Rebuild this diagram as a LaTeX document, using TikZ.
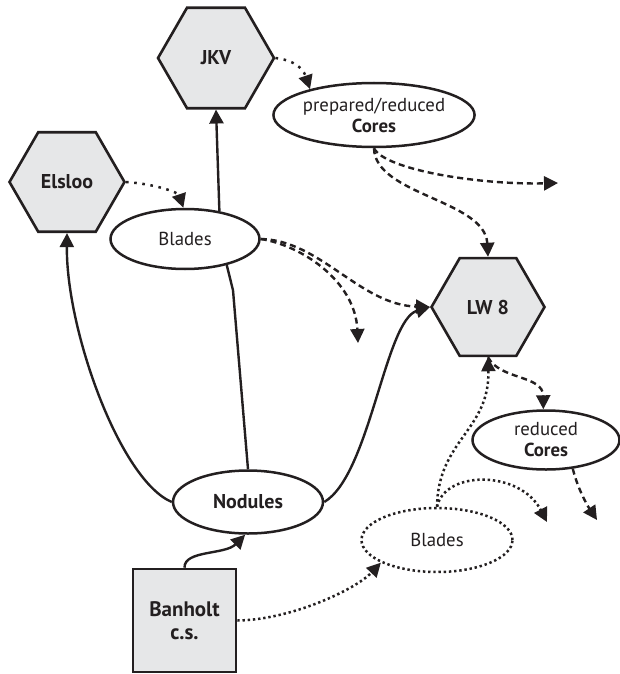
\documentclass[tikz,border=0pt]{standalone}
\usepackage{fontspec}
\setmainfont{PT Sans}
\usetikzlibrary{arrows.meta,shapes.geometric}
\definecolor{ink}{HTML}{231F20}
\definecolor{hexfill}{HTML}{E6E7E8}
\begin{document}
\begin{tikzpicture}[x=1pt,y=-1pt,
  hexa/.style={regular polygon, regular polygon sides=6, draw=ink, fill=hexfill,
    line width=2.6pt, inner sep=0pt, text=ink,
    font=\bfseries\fontsize{20}{24}\selectfont},
  ell/.style={ellipse, draw=ink, fill=white, line width=2.5pt, inner sep=0pt,
    align=center, text=ink, font=\fontsize{18.8}{21}\selectfont},
  boxnode/.style={rectangle, draw=ink, fill=hexfill, line width=2.6pt, inner sep=0pt,
    minimum size=103pt, align=center, text=ink,
    font=\bfseries\fontsize{21}{23}\selectfont},
  tip/.style={-{Triangle[length=14pt,width=14pt]}},
  solidline/.style={draw=ink, line width=2.4pt},
  dashline/.style={draw=ink, line width=2.4pt, dash pattern=on 6pt off 4pt},
  sparsedot/.style={draw=ink, line width=2.5pt, dash pattern=on 2.6pt off 5.6pt},
  densedot/.style={draw=ink, line width=2.5pt, dash pattern=on 2.4pt off 2.8pt},
]
\useasboundingbox (0,0) rectangle (620,674);

% nodes
\node[hexa, minimum size=116pt] (jkv) at (216,58) {JKV};
\node[hexa, minimum size=115pt] (els) at (67,182) {Elsloo};
\node[hexa, minimum size=113pt] (lw) at (488,307) {LW 8};
\node[ell, minimum width=149pt, minimum height=60pt] (bla) at (185,239) {Blades};
\node[ell, minimum width=162pt, minimum height=64pt] (prep) at (374,115)
  {prepared/reduced\\\textbf{Cores}};
\node[ell, minimum width=147pt, minimum height=59pt] (red) at (546,440)
  {reduced\\\textbf{Cores}};
\node[ell, minimum width=150pt, minimum height=63pt,
  font=\bfseries\fontsize{20}{24}\selectfont] (nod) at (248,502) {Nodules};
\node[ell, draw=none, minimum width=151pt, minimum height=64pt] (blb) at (437,540) {Blades};
\draw[densedot] (blb.center) ellipse [x radius=75.5pt, y radius=32pt];
\node[boxnode] (ban) at (184.5,620.5) {Banholt\\c.s.};

% free ends
\coordinate (f1) at (358,343);
\coordinate (f2) at (558,183);
\coordinate (f3) at (597,520);
\coordinate (f4) at (547,522);

% solid connectors
\draw[solidline, tip] (bla.39) -- (jkv.south);
\draw[solidline] (nod.north) -- ++(-15,-179) .. controls +(-2,-8) and +(3,12) .. (bla.-32);
\draw[solidline, tip] (nod.west) .. controls (120,480) and (66,330) .. (els.south);
\draw[solidline, tip] (nod.east) .. controls (370,475) and (385,320) .. (lw.west);
\draw[solidline, tip] (ban.north) .. controls (184,550) and (225,555) .. (nod.-95);

% sparse dotted connectors
\draw[sparsedot, tip] (jkv.east) .. controls +(25,3) and +(-5,-15) .. (prep.158);
\draw[sparsedot, tip] (els.east) .. controls +(30,2) and +(-5,-15) .. (bla.93);

% dashed connectors
\draw[dashline, tip] (bla.east) .. controls (320,240) and (360,305) .. (lw.west);
\draw[dashline, tip] (bla.east) .. controls (300,245) and (355,280) .. (f1);
\draw[dashline, tip] (prep.south) .. controls (375,195) and (485,200) .. (lw.north);
\draw[dashline, tip] (prep.south) .. controls (385,170) and (480,185) .. (f2);
\draw[dashline, tip] (lw.south) .. controls (500,380) and (543,375) .. (red.95);
\draw[dashline, tip] (red.-47) .. controls +(5,20) and +(-10,-15) .. (f3);

% dense dotted connectors
\draw[densedot, tip] (blb.north) .. controls (438,440) and (490,430) .. (lw.south);
\draw[densedot, tip] (blb.north) .. controls (445,470) and (520,470) .. (f4);
\draw[densedot, tip] (ban.east) .. controls (290,620) and (355,590) .. (blb.202);
\end{tikzpicture}
\end{document}
